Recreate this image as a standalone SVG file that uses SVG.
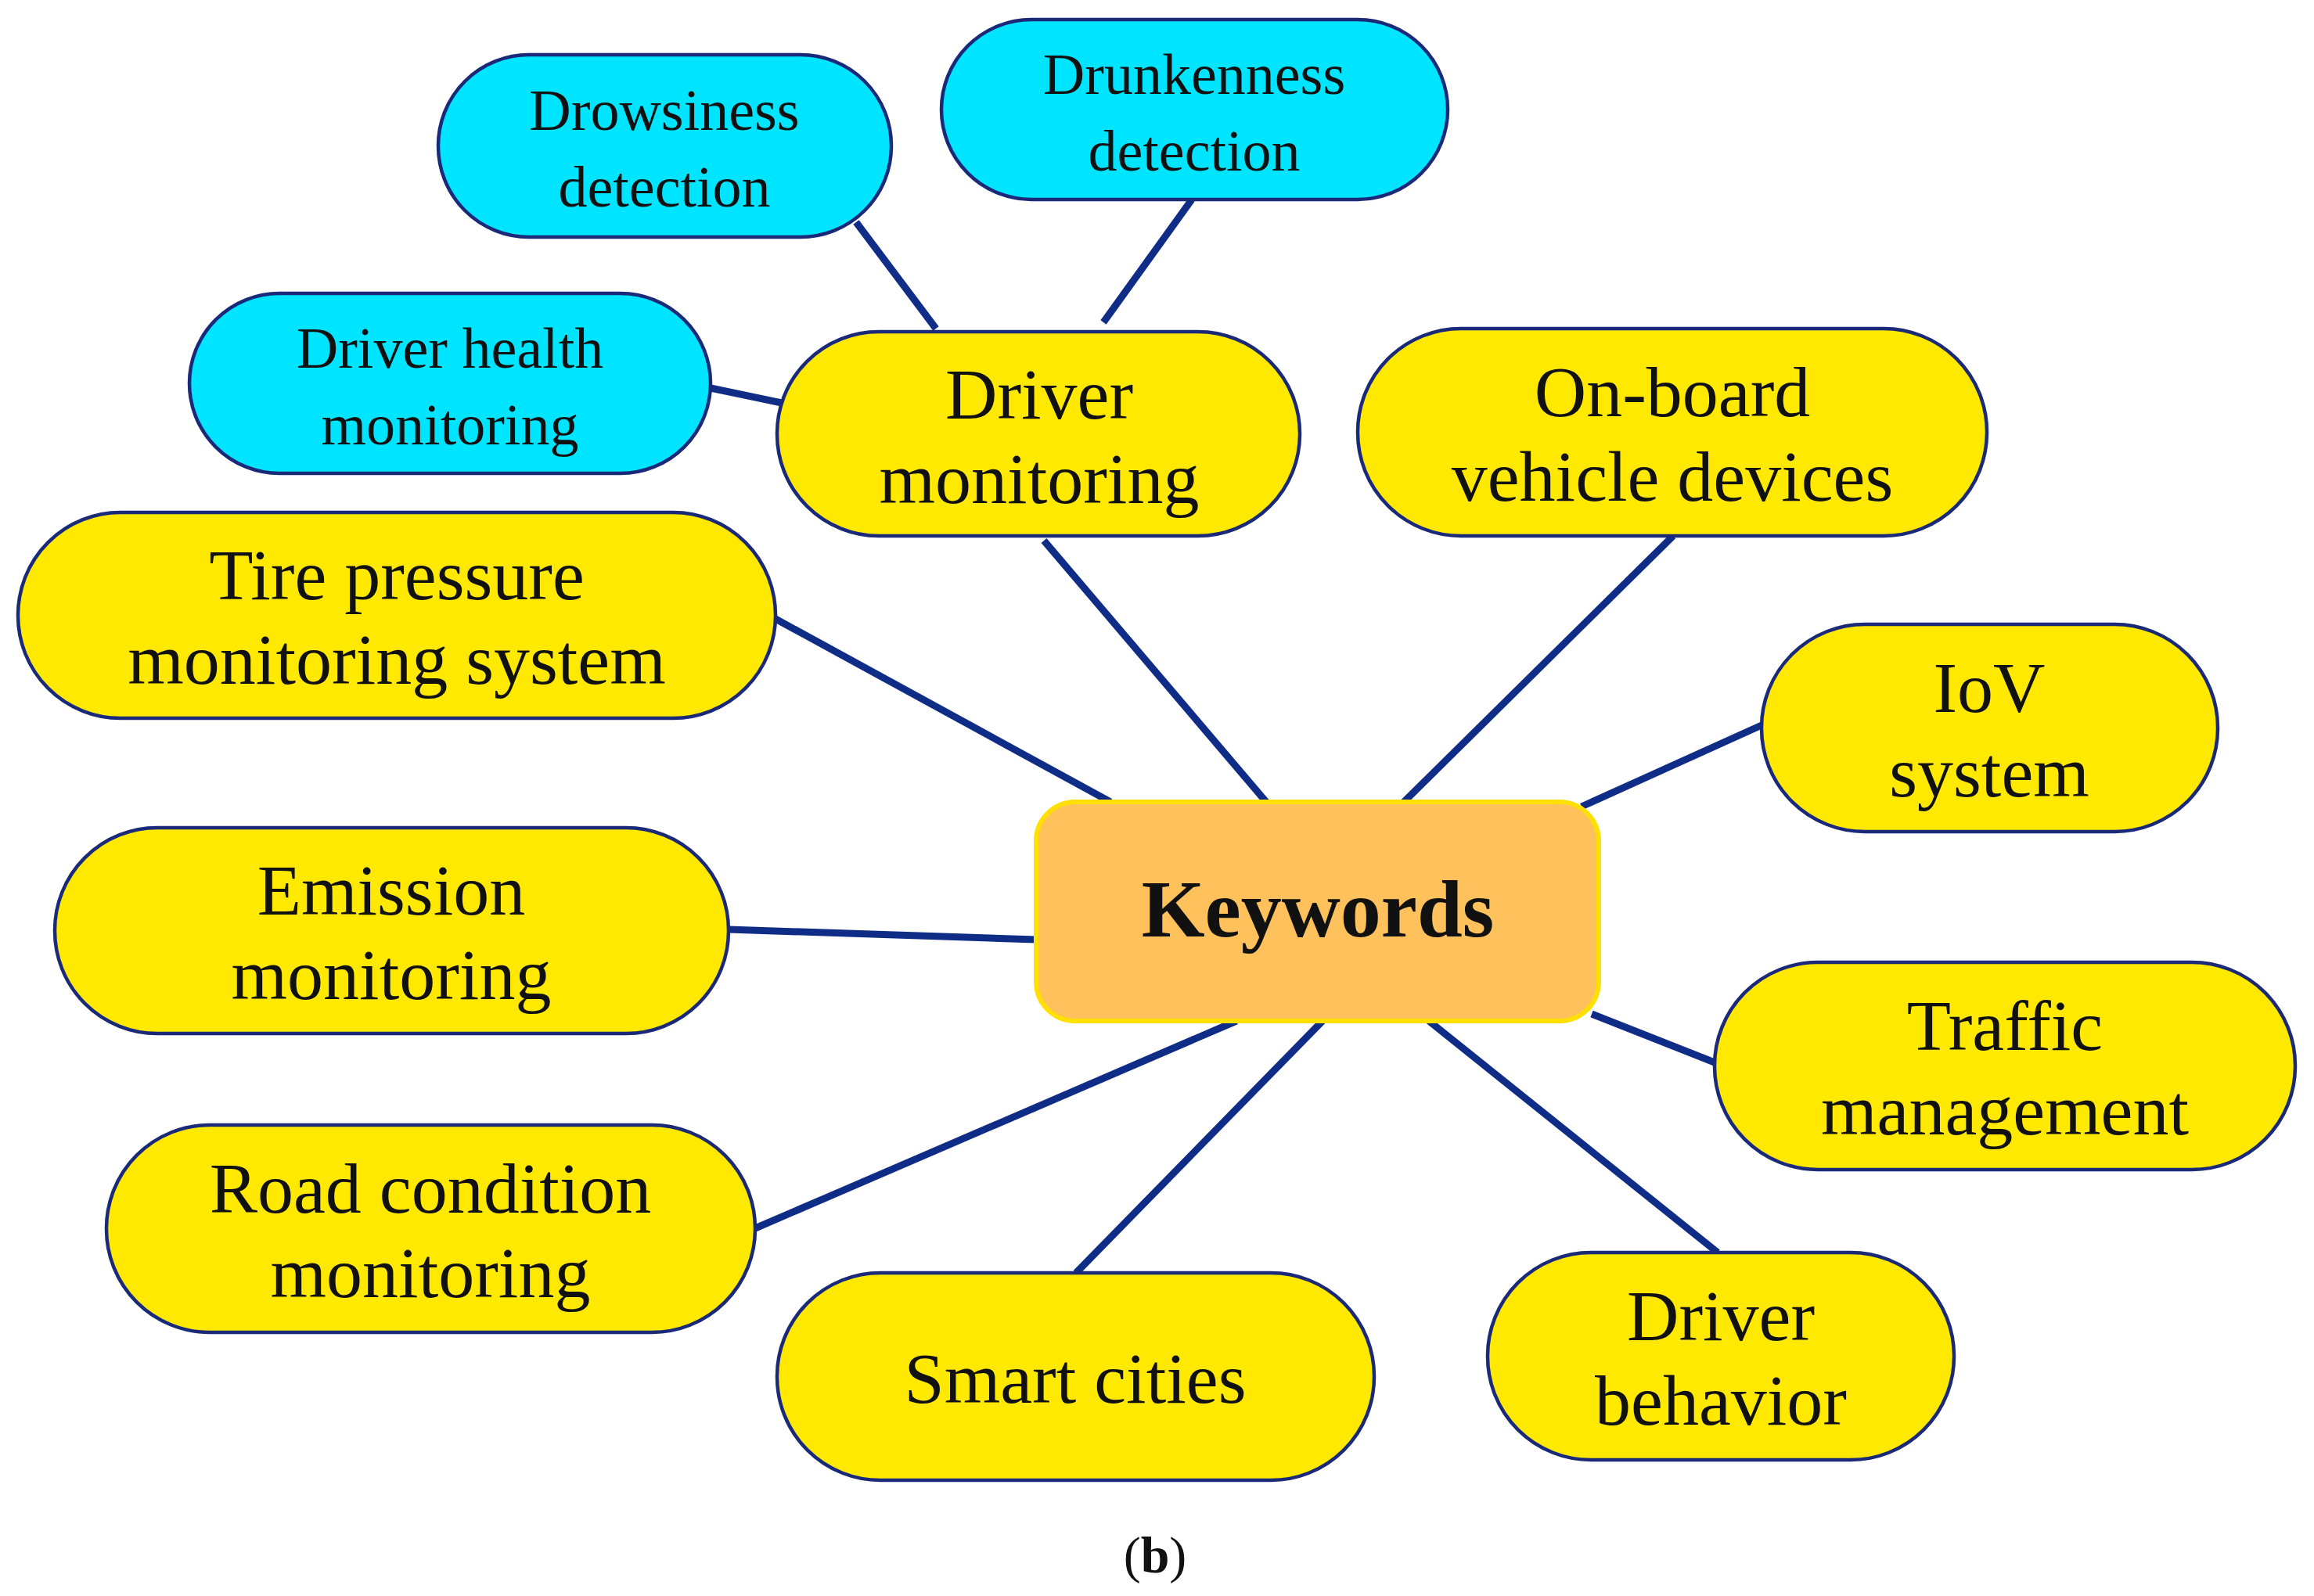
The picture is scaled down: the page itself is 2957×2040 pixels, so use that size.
<svg xmlns="http://www.w3.org/2000/svg" width="2957" height="2040" viewBox="0 0 2957 2040">
<style>
.y{fill:#FFE900;stroke:#1B2A78;stroke-width:4.5}
.c{fill:#00E5FF;stroke:#1B2A78;stroke-width:4.5}
.t{font-family:"Liberation Serif",serif;font-size:92px;fill:#111;text-anchor:middle}
.s{font-family:"Liberation Serif",serif;font-size:74px;fill:#111;text-anchor:middle}
.e line{stroke:#0F2C86;stroke-width:9}
</style>
<rect width="2957" height="2040" fill="#fff"/>
<g class="e" id="connectors">
<line x1="1334" y1="691" x2="1618" y2="1025"/>
<line x1="2138" y1="685" x2="1794" y2="1025"/>
<line x1="991" y1="791" x2="1419" y2="1025"/>
<line x1="2251" y1="927" x2="2021" y2="1031"/>
<line x1="931" y1="1188" x2="1324" y2="1201"/>
<line x1="2191" y1="1358" x2="2034" y2="1296"/>
<line x1="965" y1="1570" x2="1580" y2="1305"/>
<line x1="1375" y1="1627" x2="1690" y2="1305"/>
<line x1="2195" y1="1601" x2="1826" y2="1305"/>
<line x1="1094" y1="284" x2="1196" y2="420"/>
<line x1="1523" y1="255" x2="1410" y2="412"/>
<line x1="908" y1="496" x2="999" y2="515"/>
</g>
<g id="keywords"><rect x="1324" y="1025" width="719" height="280" rx="50" fill="#FFC15C" stroke="#FFE000" stroke-width="6"/><text x="1684" y="1197" font-family="Liberation Serif,serif" font-size="104" font-weight="bold" text-anchor="middle" fill="#111">Keywords</text></g>
<g id="driver-monitoring"><rect class="y" x="993" y="424" width="668" height="261" rx="130"/><text class="t" x="1328" y="535">Driver</text><text class="t" x="1328" y="643">monitoring</text></g>
<g id="drowsiness"><rect class="c" x="560" y="70" width="579" height="233" rx="116"/><text class="s" x="849" y="166">Drowsiness</text><text class="s" x="849" y="264">detection</text></g>
<g id="drunkenness"><rect class="c" x="1203" y="25" width="647" height="230" rx="115"/><text class="s" x="1526" y="120">Drunkenness</text><text class="s" x="1526" y="218">detection</text></g>
<g id="driver-health"><rect class="c" x="242" y="375" width="666" height="230" rx="115"/><text class="s" x="575" y="470">Driver health</text><text class="s" x="575" y="568">monitoring</text></g>
<g id="onboard"><rect class="y" x="1735" y="420" width="804" height="265" rx="132"/><text class="t" x="2137" y="532">On-board</text><text class="t" x="2137" y="640">vehicle devices</text></g>
<g id="tire"><rect class="y" x="23" y="655" width="968" height="263" rx="131"/><text class="t" x="507" y="766">Tire pressure</text><text class="t" x="507" y="874">monitoring system</text></g>
<g id="iov"><rect class="y" x="2251" y="798" width="583" height="265" rx="132"/><text class="t" x="2542" y="910">IoV</text><text class="t" x="2542" y="1018">system</text></g>
<g id="emission"><rect class="y" x="70" y="1058" width="861" height="263" rx="131"/><text class="t" x="500" y="1169">Emission</text><text class="t" x="500" y="1277">monitoring</text></g>
<g id="traffic"><rect class="y" x="2191" y="1230" width="742" height="265" rx="132"/><text class="t" x="2562" y="1342">Traffic</text><text class="t" x="2562" y="1450">management</text></g>
<g id="road"><rect class="y" x="136" y="1438" width="829" height="265" rx="132"/><text class="t" x="550" y="1550">Road condition</text><text class="t" x="550" y="1658">monitoring</text></g>
<g id="smart"><rect class="y" x="993" y="1627" width="763" height="265" rx="132"/><text class="t" x="1374" y="1793">Smart cities</text></g>
<g id="behavior"><rect class="y" x="1901" y="1601" width="596" height="265" rx="132"/><text class="t" x="2199" y="1713">Driver</text><text class="t" x="2199" y="1821">behavior</text></g>
<text x="1476" y="2010" font-family="Liberation Serif,serif" font-size="66" text-anchor="middle" fill="#111">(<tspan font-weight="bold">b</tspan>)</text>
</svg>
